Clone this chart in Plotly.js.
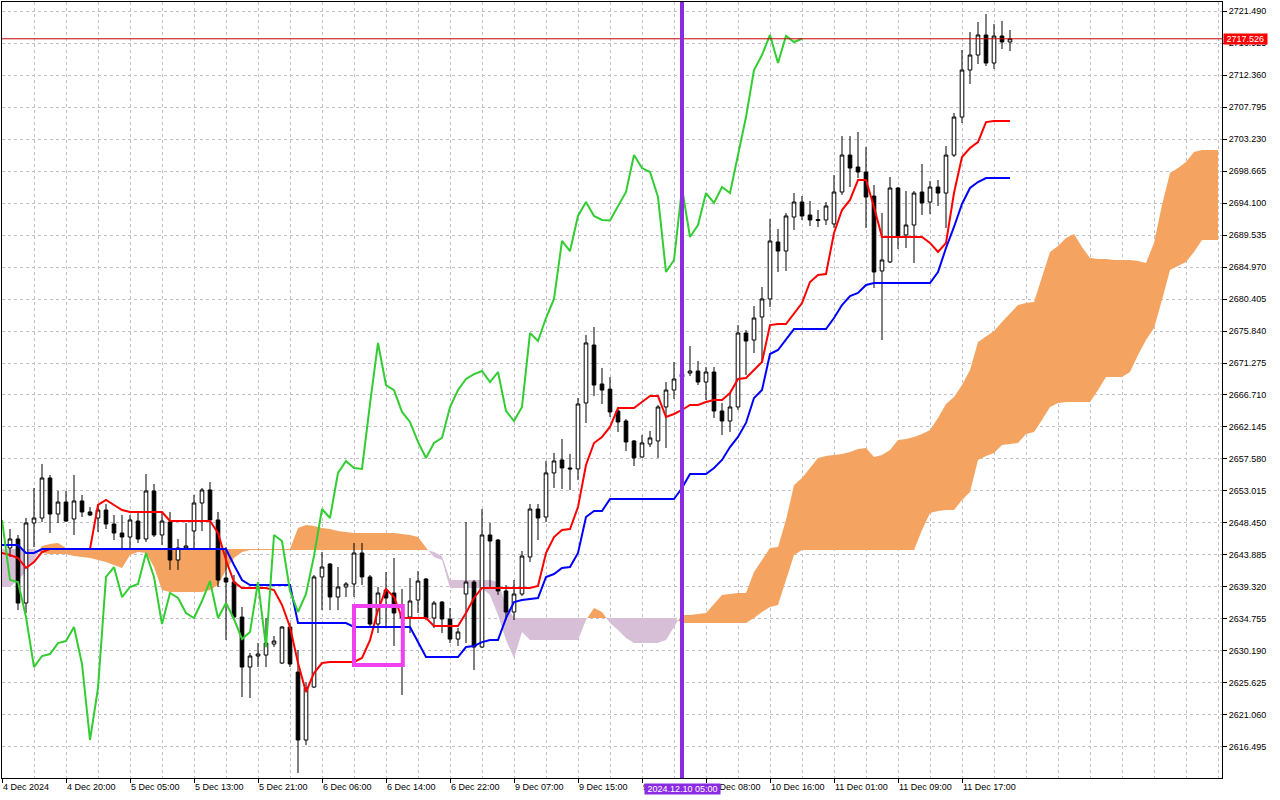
<!DOCTYPE html>
<html><head><meta charset="utf-8">
<script src="https://cdn.plot.ly/plotly-3.0.1.min.js"></script>
<style>html,body{margin:0;padding:0;background:#fff}#chart{width:1280px;height:800px}</style>
</head><body><div id="chart"></div>
<script>
// ---- XAUUSD H1 candles, bars 1..126 (bar 0 = 4 Dec 2024 12:00) ----
const priceOpen = [2644.88,2646.17,2637.03,2648.45,2649.16,2654.87,2649.73,2651.44,2649.02,2651.59,
2650.02,2649.16,2650.30,2648.30,2647.02,2646.45,2648.73,2646.17,2653.02,2646.74,
2648.59,2643.17,2644.88,2647.31,2651.30,2653.16,2648.88,2640.60,2640.03,2635.03,
2627.90,2629.47,2629.61,2631.18,2628.47,2633.61,2627.18,2617.49,2625.05,2640.75,
2642.60,2637.89,2639.32,2639.75,2644.17,2640.75,2634.04,2638.89,2638.46,2635.61,
2635.03,2637.46,2640.46,2634.89,2637.17,2634.75,2631.89,2638.32,2640.03,2630.75,
2646.74,2646.02,2638.75,2635.75,2638.32,2643.60,2650.44,2649.30,2655.59,2657.44,
2656.30,2656.16,2665.57,2673.84,2668.28,2667.55,2664.43,2663.00,2660.15,2657.87,
2659.72,2660.15,2665.00,2667.42,2669.27,2669.84,2670.13,2668.56,2669.99,2664.43,
2663.00,2665.00,2675.55,2674.55,2677.84,2680.41,2688.54,2687.25,2692.10,2694.24,
2692.39,2691.75,2691.68,2691.11,2695.67,2700.94,2699.23,2698.52,2695.09,2684.40,
2685.69,2696.24,2689.54,2690.96,2695.67,2694.24,2696.38,2695.52,2700.94,2706.36,
2713.07,2715.21,2718.07,2714.07,2717.92,2717.07];
const priceHigh = [2647.59,2646.74,2649.16,2653.44,2656.87,2655.30,2653.02,2653.02,2655.30,2652.45,
2650.73,2651.16,2651.16,2649.59,2649.59,2649.59,2650.02,2655.44,2654.01,2650.02,
2650.02,2646.17,2648.45,2652.45,2653.44,2654.30,2650.02,2645.02,2641.03,2636.46,
2629.90,2631.32,2634.89,2632.32,2633.75,2634.18,2630.33,2625.76,2641.03,2644.31,
2642.74,2642.17,2640.03,2645.60,2645.60,2641.03,2639.32,2641.46,2643.46,2639.03,
2640.60,2641.60,2640.60,2637.32,2637.32,2636.32,2633.47,2648.59,2640.31,2650.44,
2648.45,2646.17,2639.60,2640.32,2644.45,2651.16,2651.16,2657.30,2658.44,2660.44,
2658.30,2666.28,2675.27,2676.41,2670.56,2669.27,2665.00,2663.29,2660.29,2661.01,
2661.58,2665.29,2668.56,2671.42,2670.99,2673.70,2671.56,2670.70,2670.70,2665.57,
2666.99,2676.69,2675.98,2679.41,2682.12,2691.82,2690.39,2692.67,2695.52,2695.09,
2694.39,2693.10,2694.24,2698.09,2703.65,2703.65,2704.23,2702.08,2696.66,2692.67,
2697.81,2696.38,2695.81,2695.81,2699.66,2697.23,2697.38,2702.23,2706.94,2715.93,
2718.49,2719.92,2721.06,2719.64,2720.06,2718.78];
const priceLow = [2643.60,2636.03,2635.61,2645.02,2648.59,2647.02,2648.45,2648.59,2646.74,2649.30,
2649.44,2647.16,2647.59,2646.02,2644.73,2644.60,2645.60,2645.74,2646.45,2645.31,
2641.75,2641.75,2644.60,2644.60,2647.31,2644.60,2639.32,2631.75,2634.60,2623.62,
2623.48,2627.90,2627.90,2630.75,2628.33,2627.90,2612.79,2616.78,2624.90,2636.03,
2636.03,2636.03,2637.89,2637.89,2639.60,2633.47,2632.75,2633.61,2630.90,2623.91,
2632.75,2635.61,2634.60,2633.47,2632.75,2631.32,2630.90,2631.32,2627.47,2630.61,
2639.18,2638.18,2634.60,2634.60,2638.03,2642.89,2646.02,2648.59,2653.44,2653.30,
2653.16,2654.59,2662.72,2666.56,2665.43,2663.57,2661.44,2658.72,2656.58,2657.73,
2659.29,2657.73,2659.15,2666.14,2668.13,2669.42,2668.13,2666.00,2663.43,2661.01,
2661.44,2664.57,2669.56,2672.70,2671.27,2679.26,2684.26,2684.40,2690.25,2691.68,
2690.82,2690.68,2690.96,2690.54,2695.24,2696.38,2697.66,2690.54,2681.98,2674.55,
2685.54,2687.54,2687.68,2685.54,2692.39,2692.53,2693.67,2690.54,2700.66,2705.51,
2711.08,2713.93,2713.64,2713.22,2716.07,2715.78];
const priceClose = [2646.17,2637.03,2648.45,2649.16,2654.87,2649.73,2651.44,2648.73,2651.59,2650.02,
2649.59,2650.30,2648.30,2647.02,2646.45,2648.88,2646.17,2653.02,2646.74,2648.73,
2643.17,2644.88,2645.17,2651.30,2653.16,2648.88,2640.32,2640.03,2635.03,2627.90,
2629.47,2629.76,2631.32,2631.61,2633.61,2628.33,2617.49,2624.90,2640.75,2642.17,
2637.89,2639.32,2639.75,2644.17,2640.75,2634.04,2638.46,2637.75,2635.61,2634.89,
2637.32,2640.17,2634.89,2637.03,2634.75,2631.89,2632.90,2640.03,2630.75,2646.74,
2645.88,2638.75,2635.75,2638.32,2643.74,2650.44,2649.16,2655.59,2657.30,2656.30,
2656.16,2665.43,2674.13,2668.13,2667.41,2664.29,2662.86,2660.01,2657.73,2659.87,
2660.58,2665.00,2667.42,2668.99,2669.70,2670.13,2668.56,2669.99,2664.43,2663.00,
2665.00,2675.55,2674.41,2677.69,2680.41,2688.68,2687.25,2692.25,2694.24,2692.25,
2691.68,2691.60,2693.67,2695.67,2700.94,2699.09,2698.52,2694.95,2684.26,2685.97,
2696.24,2689.25,2690.96,2695.52,2694.10,2696.38,2695.52,2700.94,2706.36,2713.07,
2715.21,2718.07,2714.07,2717.92,2717.07,2717.53];

// ---- Ichimoku lines (bars 0..126) ----
const tenkan = [2644.17,2643.88,2643.46,2642.03,2642.89,2644.31,
2644.74,2644.74,2644.74,2644.74,2644.74,2644.74,
2651.02,2651.73,2651.02,2650.30,
2650.02,2650.02,2650.02,2650.02,2650.02,
2648.73,2648.73,2648.73,2648.73,2648.73,2648.73,
2647.02,2643.17,2640.03,
2639.18,2639.18,2639.18,2639.18,
2638.89,2636.75,2633.61,2628.47,2624.34,2627.05,2628.47,
2628.62,2628.62,2628.62,2628.62,
2629.19,2631.75,2636.03,2639.03,2637.89,
2634.89,2634.89,2634.89,2634.89,
2633.75,2633.75,2633.75,2633.75,
2635.61,2637.75,
2639.18,2639.18,2639.18,2639.18,2639.18,2639.18,2639.18,
2639.46,2644.17,2646.45,2647.45,2647.59,2650.73,2656.72,2659.86,2660.72,2662.15,
2664.86,2664.86,2664.86,
2665.71,2666.56,2666.56,2663.57,2664.00,2664.57,
2665.29,2665.29,2665.71,2666.00,2666.00,2666.99,2668.99,2669.13,2670.27,2671.42,
2676.69,2676.84,2676.84,2678.41,2679.83,2682.83,2683.83,2683.97,
2689.82,2693.10,2694.53,2697.38,2697.38,2693.53,
2689.25,2689.25,2689.25,2689.25,2689.25,2689.25,
2688.40,2687.11,2688.40,2695.52,2700.66,2701.94,2702.80,2705.64,
2705.79,2705.79,2705.79];
const kijun = [2645.31,2645.31,2645.31,2644.17,2644.17,
2644.74,2644.74,2644.74,2644.74,2644.74,2644.74,2644.74,2644.74,2644.74,2644.74,2644.74,2644.74,
2644.74,2644.74,2644.74,2644.74,2644.74,2644.74,2644.74,2644.74,2644.74,2644.74,2644.74,2644.74,
2642.46,2640.32,
2639.60,2639.60,2639.60,2639.60,2639.60,2639.60,
2634.18,2634.18,2634.18,2634.18,2634.18,2634.18,2634.18,
2633.61,2633.61,2633.61,2633.61,2633.61,2633.61,2633.61,2633.61,
2631.46,
2629.33,2629.33,2629.33,2629.33,2629.33,
2630.75,2630.90,2631.46,2631.75,2631.75,
2634.89,2637.17,2637.46,2637.60,2637.75,2640.75,2641.17,2642.03,2642.17,2644.17,
2649.30,2650.16,2650.16,
2651.87,2651.87,2651.87,2651.87,2651.87,2651.87,2651.87,2651.87,2651.87,
2653.44,2655.44,2655.44,2655.44,2656.30,2657.44,2659.29,2660.72,2662.72,2666.28,2667.42,
2672.56,2673.13,2674.55,
2676.12,2676.12,2676.12,2676.12,2676.12,
2677.69,2679.55,2680.83,2681.26,2682.40,
2682.69,2682.69,2682.69,2682.69,2682.69,2682.69,2682.69,2682.69,
2684.26,2687.68,2690.68,2693.96,2696.24,2697.09,
2697.66,2697.66,2697.66,2697.66];
// Senkou Span A / B (bars 0..152, 26 bars projected ahead)
const spanA = [2639.32,2639.32,2640.32,2641.46,2643.17,2645.17,2645.45,2645.60,2644.88,
2644.74,2644.74,2644.74,2644.74,2644.74,2644.74,2644.74,2644.74,2644.74,2644.74,
2644.74,2644.74,2644.74,2644.74,2644.74,2644.74,2644.74,2644.74,2644.74,2644.74,
2644.74,2644.74,2644.74,2644.74,2644.74,2644.74,2644.74,2644.74,
2647.74,2648.16,2648.02,2647.74,2647.59,2647.31,2647.16,
2647.02,2647.02,2647.02,2647.02,2647.02,2647.02,
2646.88,2646.74,2646.45,2644.88,2643.60,2643.17,
2639.18,2639.18,2639.18,2639.18,2639.18,
2638.18,2635.32,2631.75,2629.19,2632.90,
2631.75,2631.75,2631.75,2631.75,2631.75,2631.75,2631.75,
2634.60,2636.32,2635.75,2634.18,2633.18,2632.04,
2631.32,2631.32,2631.32,2631.32,
2631.75,2633.75,
2635.32,2635.32,2635.46,2635.61,2636.89,2638.18,2638.32,2638.46,2638.46,2641.46,
2643.17,2644.88,2645.02,2648.88,2653.87,2654.87,2656.30,2657.73,2658.01,2658.15,
2658.30,2658.58,2659.01,2659.15,2657.87,2658.15,2658.87,2660.29,2660.44,2660.72,
2661.15,2661.72,2663.43,2665.43,2666.42,2668.13,2670.27,2674.27,2675.12,2675.84,
2677.12,2678.26,2679.55,2679.83,2679.97,2683.55,2687.11,2687.97,2689.11,2689.67,
2687.82,2686.25,2686.11,2686.11,2685.97,2685.97,2685.97,2685.83,2685.54,2688.40,
2693.82,2698.38,2699.09,2699.94,2701.37,2701.66,2701.66,2701.66];
const spanB = [2644.74,2644.74,2644.74,2644.74,2644.74,
2644.17,2644.03,2644.03,2644.03,2643.74,2643.60,2643.46,2643.17,2642.89,2642.46,2642.03,2643.88,2644.31,2644.17,2642.17,
2638.89,2638.60,2638.60,2638.60,2638.60,2638.60,2638.89,2639.60,2641.75,2643.46,2644.31,
2644.60,2644.60,2644.60,2644.60,2644.60,2644.60,2644.60,2644.60,2644.60,2644.60,2644.60,2644.60,
2644.60,2644.60,2644.60,2644.60,2644.60,2644.60,2644.60,2644.60,2644.60,2644.60,2644.60,
2644.31,2643.74,
2640.32,2640.32,2640.32,2640.32,2640.32,2640.32,
2640.03,2636.75,
2634.89,2634.89,2634.89,2634.89,2634.89,2634.89,2634.89,2634.89,2634.89,2634.89,2634.89,
2634.89,2634.89,2634.89,2634.89,2634.89,2634.89,2634.89,2634.89,2634.89,2634.89,
2634.18,2634.18,2634.18,2634.18,2634.18,2634.18,2634.18,2634.18,2634.18,
2634.89,2635.75,2636.46,2636.75,2640.32,2643.88,
2644.60,2644.60,2644.60,2644.60,2644.60,2644.60,2644.60,2644.60,2644.60,2644.60,2644.60,2644.60,2644.60,2644.60,2644.60,
2647.45,2649.88,2650.16,2650.30,2650.30,2651.73,2652.88,2657.44,2658.01,2658.44,
2659.58,2659.72,2659.86,2661.15,2661.44,2663.15,2665.00,2665.57,2665.71,2665.71,
2665.71,2665.71,2667.42,2669.27,2669.27,2669.27,2669.99,2672.41,2674.55,2676.27,
2680.26,2684.54,2685.11,2685.69,2687.11,2688.82,2688.82,2688.82];
// Chikou Span: the close plotted 26 bars back (bars 0..100 = closes of bars 26..126)
const chikou = priceClose.slice(25);

// ---- axis labels ----
const timeLabels = ["4 Dec 2024","4 Dec 20:00","5 Dec 05:00","5 Dec 13:00","5 Dec 21:00","6 Dec 06:00",
"6 Dec 14:00","6 Dec 22:00","9 Dec 07:00","9 Dec 15:00","9 Dec 23:00","10 Dec 08:00",
"10 Dec 16:00","11 Dec 01:00","11 Dec 09:00","11 Dec 17:00"];
const priceTicks = [2616.495,2621.060,2625.625,2630.190,2634.755,2639.320,2643.885,2648.450,
2653.015,2657.580,2662.145,2666.710,2671.275,2675.840,2680.405,2684.970,2689.535,2694.100,
2698.665,2703.230,2707.795,2712.360,2716.925,2721.490];
const currentPrice = 2717.526;
const markerBar = 85;
const markerLabel = "2024.12.10 05:00";

// ---- build ----
const BAR_STEP = 8, GRID_STEP = 4, TOTAL_BARS = spanA.length;
const candleX = priceOpen.map((_, i) => i + 1);
const lineX = arr => arr.map((_, i) => i);

function cloudTraces() {
  const segs = []; let cur = null;
  for (let k = 0; k < spanA.length; k++) {
    const d = spanA[k] - spanB[k];
    const up = d >= 0;
    if (cur && cur.up !== up) {
      const d0 = spanA[k-1] - spanB[k-1];
      const t = d0 / (d0 - d);
      const xc = k - 1 + t;
      const yc = spanA[k-1] + t * (spanA[k] - spanA[k-1]);
      cur.x.push(xc); cur.a.push(yc); cur.b.push(yc);
      segs.push(cur);
      cur = {up, x:[xc], a:[yc], b:[yc]};
    }
    if (!cur) cur = {up, x:[], a:[], b:[]};
    cur.x.push(k); cur.a.push(spanA[k]); cur.b.push(spanB[k]);
  }
  segs.push(cur);
  return segs.map(s => ({
    type:'scatter', mode:'lines',
    x: s.x.concat(s.x.slice().reverse()),
    y: s.a.concat(s.b.slice().reverse()),
    fill:'toself', fillcolor: s.up ? '#F4A460' : '#D8BFD8',
    line:{width:0, color: s.up ? '#F4A460' : '#D8BFD8'},
    hoverinfo:'skip', showlegend:false, xaxis:'x', yaxis:'y'
  }));
}

const traces = cloudTraces().concat([
  {type:'candlestick', x:candleX, open:priceOpen, high:priceHigh, low:priceLow, close:priceClose,
   xaxis:'x', yaxis:'y2', whiskerwidth:0,
   increasing:{line:{color:'#000000', width:1}, fillcolor:'#ffffff'},
   decreasing:{line:{color:'#000000', width:1}, fillcolor:'#000000'},
   hoverinfo:'skip', showlegend:false},
  {type:'scatter', mode:'lines', x:lineX(tenkan), y:tenkan, xaxis:'x', yaxis:'y2',
   line:{color:'#ff0000', width:2}, hoverinfo:'skip', showlegend:false},
  {type:'scatter', mode:'lines', x:lineX(kijun), y:kijun, xaxis:'x', yaxis:'y2',
   line:{color:'#0000ff', width:2}, hoverinfo:'skip', showlegend:false},
  {type:'scatter', mode:'lines', x:lineX(chikou), y:chikou, xaxis:'x', yaxis:'y2',
   line:{color:'#32cd32', width:2}, hoverinfo:'skip', showlegend:false}
]);

const majorVals = timeLabels.map((_, i) => i * BAR_STEP);
const minorVals = [];
for (let k = GRID_STEP; k < TOTAL_BARS; k += GRID_STEP) if (!majorVals.includes(k)) minorVals.push(k);

const GRID = '#c0bcc8';
const FONT = {family:'"Liberation Sans", Arial, sans-serif', size:9, color:'#000'};
const yRange = [2612.07, 2722.775];

const layout = {
  width:1280, height:800,
  margin:{l:2, r:58, t:2, b:22, pad:0},
  paper_bgcolor:'#ffffff', plot_bgcolor:'#ffffff',
  showlegend:false, font:FONT, boxgap:0.35, dragmode:false,
  xaxis:{range:[0, 152.5], tickmode:'array', tickvals:majorVals, ticktext:timeLabels,
    ticks:'outside', ticklen:4, tickcolor:'#000', tickangle:0,
    ticklabelposition:'outside right', tickfont:FONT,
    showgrid:true, gridcolor:GRID, griddash:'3px,3px', gridwidth:1,
    minor:{tickmode:'array', tickvals:minorVals, showgrid:true, gridcolor:GRID, griddash:'3px,3px', ticks:''},
    showline:true, linecolor:'#000', linewidth:1, mirror:true, zeroline:false,
    rangeslider:{visible:false}, fixedrange:true},
  yaxis:{side:'right', range:yRange, tickmode:'array', tickvals:priceTicks,
    ticktext:priceTicks.map(v => v.toFixed(3)),
    ticks:'outside', ticklen:4, tickcolor:'#000', tickfont:FONT,
    showgrid:true, gridcolor:GRID, griddash:'3px,3px', gridwidth:1,
    showline:true, linecolor:'#000', linewidth:1, mirror:true, zeroline:false, fixedrange:true},
  yaxis2:{overlaying:'y', side:'right', range:yRange, visible:false, fixedrange:true},
  shapes:[
    {type:'line', xref:'paper', x0:0, x1:1, yref:'y', y0:currentPrice, y1:currentPrice,
     line:{color:'#c80000', width:1}, layer:'above'},
    {type:'line', xref:'x', x0:markerBar, x1:markerBar, yref:'paper', y0:0, y1:1,
     line:{color:'#8a2be2', width:4}, layer:'above'},
    {type:'rect', xref:'x', x0:44, x1:50.1, yref:'y', y0:2628.19, y1:2636.60,
     line:{color:'#f040f0', width:4}, fillcolor:'rgba(0,0,0,0)', layer:'above'}
  ],
  annotations:[
    {xref:'paper', x:1, xanchor:'left', xshift:1, yref:'y', y:currentPrice, yanchor:'middle',
     text:'&nbsp;' + currentPrice.toFixed(3) + '&nbsp;', showarrow:false,
     bgcolor:'#ff0000', borderpad:0, font:{family:FONT.family, size:9, color:'#ffffff'}},
    {xref:'x', x:markerBar, xanchor:'center', yref:'paper', y:0, yanchor:'top', yshift:-5,
     text:'&nbsp;' + markerLabel + '&nbsp;', showarrow:false,
     bgcolor:'#8a2be2', borderpad:0, font:{family:FONT.family, size:9, color:'#ffffff'}}
  ]
};

Plotly.newPlot('chart', traces, layout, {staticPlot:true, displayModeBar:false});
</script></body></html>
